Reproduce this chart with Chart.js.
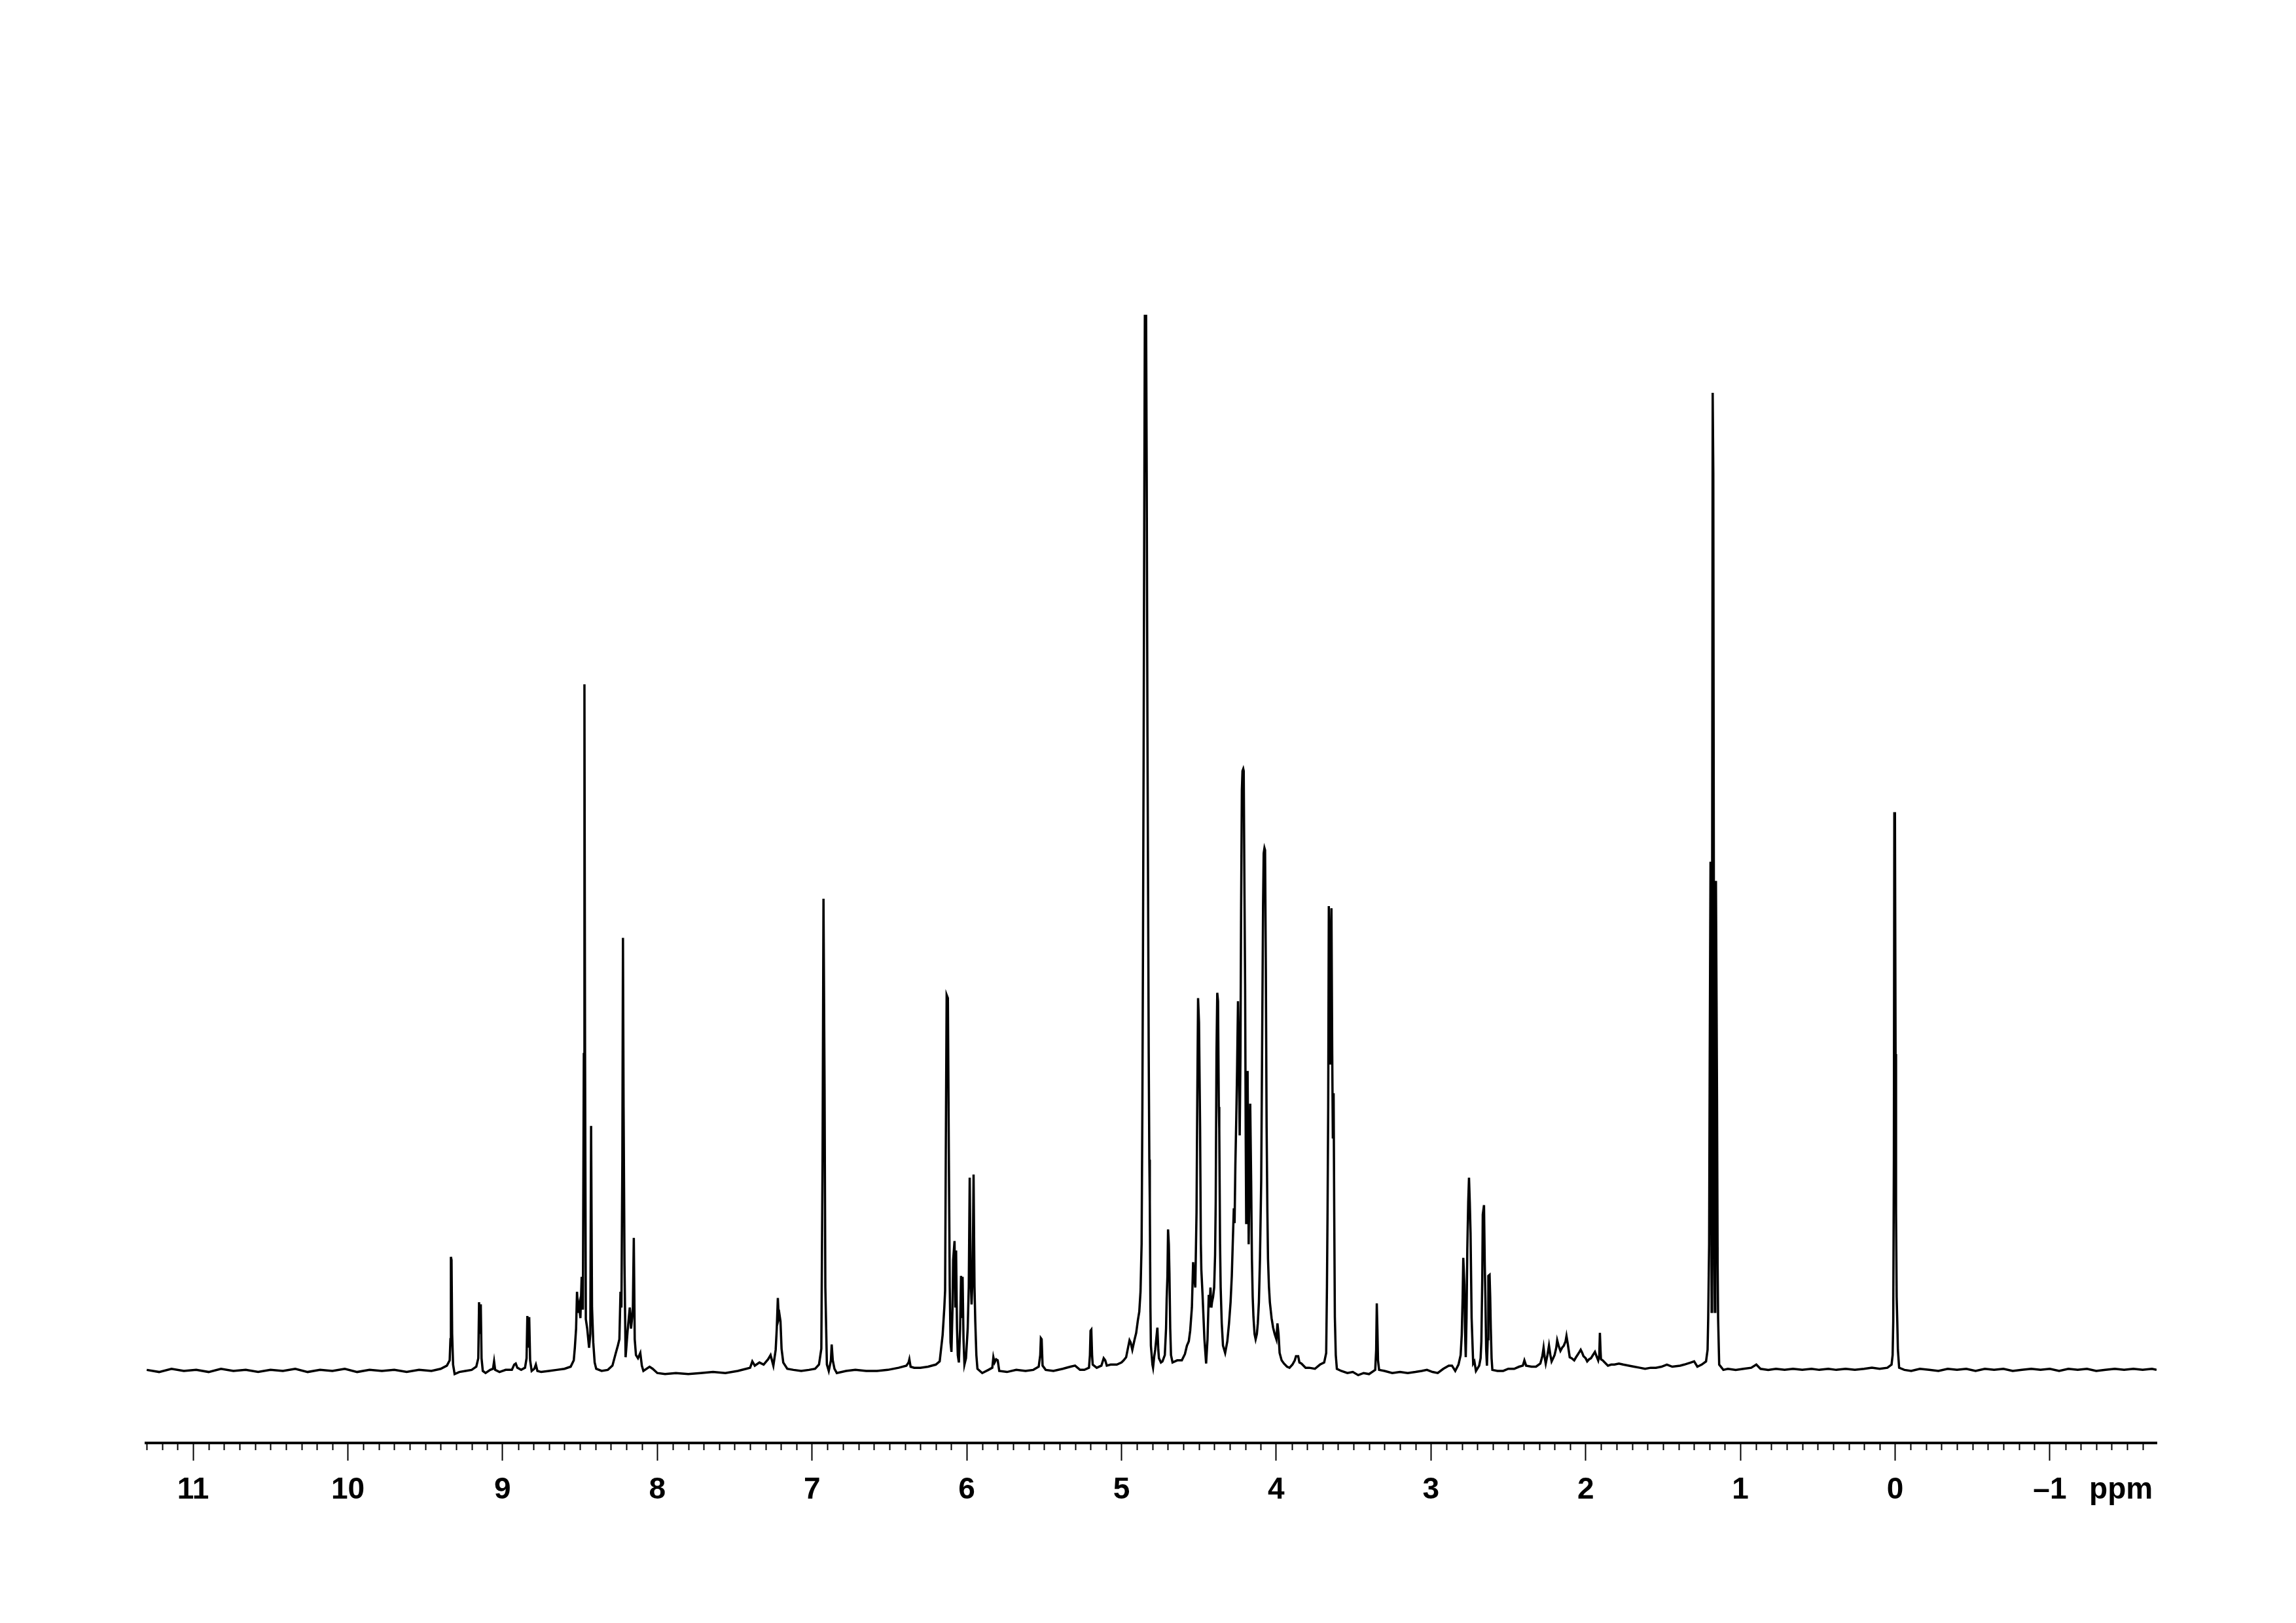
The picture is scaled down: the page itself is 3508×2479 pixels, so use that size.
<!DOCTYPE html>
<html>
<head>
<meta charset="utf-8">
<title>1H NMR spectrum</title>
<script src="https://cdn.jsdelivr.net/npm/chart.js@4.4.1/dist/chart.umd.min.js"></script>
<style>
    html, body { margin: 0; padding: 0; background: #fff; }
    canvas { display: block; }
</style>
</head>
<body>
<canvas id="spectrum" width="3508" height="2479" style="width:3508px;height:2479px"></canvas>
<script>
// chemical shift (ppm), intensity (tallest line = 100)
const aromatic = [
    [11.30, 0.1], [11.22, -0.1], [11.14, 0.2], [11.06, 0.0], [10.98, 0.1], [10.90, -0.1], [10.82, 0.2],
    [10.74, 0.0], [10.66, 0.1], [10.58, -0.1], [10.50, 0.1], [10.42, 0.0], [10.34, 0.2], [10.26, -0.1],
    [10.18, 0.1], [10.10, 0.0], [10.02, 0.2], [9.94, -0.1], [9.86, 0.1], [9.78, 0.0], [9.70, 0.1],
    [9.62, -0.1], [9.54, 0.1], [9.46, 0.0], [9.40, 0.2], [9.36, 0.5],
    [9.342, 1.0], [9.337, 3.0], [9.334, 10.8], [9.330, 10.5], [9.326, 3.5], [9.320, 0.6], [9.31, -0.3],
    [9.28, -0.1], [9.24, 0.0], [9.20, 0.1], [9.17, 0.4],
    [9.157, 1.2], [9.152, 6.5], [9.147, 3.5], [9.141, 6.3], [9.136, 1.2], [9.128, 0.0], [9.11, -0.2],
    [9.08, 0.1], [9.062, 0.2], [9.055, 0.9], [9.048, 0.1], [9.02, -0.1], [8.98, 0.1], [8.94, 0.1],
    [8.925, 0.6], [8.915, 0.7], [8.905, 0.3], [8.88, 0.1], [8.855, 0.3],
    [8.845, 1.2], [8.840, 5.2], [8.834, 2.2], [8.828, 5.1], [8.822, 1.0], [8.812, 0.0], [8.795, 0.2],
    [8.785, 0.6], [8.775, 0.0], [8.75, -0.1], [8.70, 0.0], [8.65, 0.1], [8.60, 0.2], [8.56, 0.4],
    [8.54, 1.0], [8.533, 2.2],
    [8.525, 4.0], [8.519, 7.5], [8.512, 5.5], [8.505, 6.2], [8.497, 5.0], [8.489, 8.9], [8.481, 5.8],
    [8.475, 30], [8.471, 65], [8.467, 30], [8.462, 4.9], [8.453, 4.0], [8.441, 2.2], [8.433, 3.5],
    [8.428, 23.2], [8.422, 6], [8.414, 2.7], [8.405, 0.8], [8.395, 0.2], [8.36, 0.0], [8.32, 0.1],
    [8.29, 0.5], [8.27, 1.6], [8.255, 2.4], [8.245, 3.0], [8.238, 7.5], [8.232, 6],
    [8.226, 20], [8.222, 41], [8.218, 25], [8.212, 10], [8.205, 1.3], [8.192, 3.8], [8.178, 6],
    [8.170, 4], [8.163, 5], [8.158, 6], [8.152, 12.6], [8.146, 3], [8.138, 1.5], [8.125, 1.2],
    [8.11, 1.7], [8.10, 0.5], [8.09, 0.0], [8.05, 0.4], [8.03, 0.2], [8.00, -0.2],
    [7.95, -0.3], [7.88, -0.2], [7.80, -0.3], [7.72, -0.2], [7.64, -0.1], [7.56, -0.2], [7.48, 0.0]
];

const olefinic = [
    [7.426, 0.2], [7.40, 0.3], [7.386, 0.9], [7.37, 0.5], [7.34, 0.8], [7.313, 0.6], [7.284, 1.1],
    [7.268, 1.5], [7.25, 0.5], [7.235, 2.0], [7.228, 4], [7.221, 6.9], [7.215, 5.0], [7.21, 5.3],
    [7.204, 4.7], [7.197, 2.1], [7.186, 0.8], [7.16, 0.2], [7.12, 0.1], [7.07, 0.0], [7.02, 0.1],
    [6.98, 0.2], [6.955, 0.6], [6.94, 2.1], [6.932, 20], [6.926, 44.7], [6.919, 26.6], [6.914, 7.9],
    [6.904, 0.6], [6.892, 0.0], [6.878, 1.0], [6.873, 2.5], [6.866, 1.0], [6.855, 0.2], [6.84, -0.2],
    [6.78, 0.0], [6.72, 0.1], [6.65, 0.0], [6.58, 0.0], [6.51, 0.1], [6.44, 0.3], [6.39, 0.5],
    [6.376, 0.8], [6.371, 1.1], [6.363, 0.4], [6.34, 0.3], [6.30, 0.3], [6.25, 0.4], [6.20, 0.6],
    [6.175, 0.9], [6.156, 3.4], [6.145, 6], [6.14, 7.6], [6.134, 25], [6.130, 35.6], [6.122, 35.3],
    [6.116, 21], [6.11, 8], [6.105, 2.7], [6.099, 1.8], [6.092, 6], [6.088, 10.5], [6.079, 12.3],
    [6.074, 6], [6.069, 11.4], [6.063, 4], [6.058, 1.5], [6.051, 0.8], [6.043, 4], [6.037, 9],
    [6.032, 5], [6.027, 8.9], [6.021, 3], [6.015, 0.6], [6.005, 1.2], [5.994, 4], [5.987, 8],
    [5.981, 18.3], [5.975, 9], [5.969, 6.3], [5.962, 9], [5.956, 18.6], [5.950, 8], [5.945, 4.7],
    [5.938, 1.5], [5.931, 0.2], [5.90, -0.2], [5.86, 0.1], [5.835, 0.3], [5.828, 1.3], [5.82, 0.8],
    [5.81, 1.1], [5.80, 1.0], [5.79, 0.0], [5.74, -0.1], [5.68, 0.1], [5.62, 0.0], [5.57, 0.1],
    [5.535, 0.4], [5.525, 1.5], [5.521, 3.1], [5.516, 3.0], [5.51, 0.5], [5.49, 0.1], [5.44, 0.0],
    [5.38, 0.2], [5.33, 0.4], [5.30, 0.5], [5.268, 0.1]
];

const sugar = [
    [5.24, 0.1], [5.21, 0.3], [5.204, 1.5], [5.2, 3.8], [5.195, 3.9], [5.19, 1.5], [5.186, 0.6],
    [5.16, 0.3], [5.13, 0.5], [5.115, 1.2], [5.105, 1.0], [5.095, 0.5], [5.07, 0.6], [5.03, 0.6],
    [5.00, 0.8], [4.986, 1.0], [4.97, 1.3], [4.955, 2.4], [4.948, 2.9], [4.941, 2.7], [4.93, 2.0],
    [4.915, 3.0], [4.905, 3.6], [4.894, 4.8], [4.885, 5.6], [4.877, 7.5], [4.870, 12], [4.865, 25],
    [4.861, 40], [4.857, 58], [4.853, 80], [4.849, 100], [4.845, 98], [4.841, 100], [4.837, 85],
    [4.832, 60], [4.828, 45], [4.824, 30], [4.820, 20], [4.817, 16], [4.813, 6], [4.81, 2.4],
    [4.80, 0.6], [4.796, 0.3], [4.788, 1.4], [4.782, 2], [4.772, 3.5], [4.768, 4.1], [4.762, 2],
    [4.758, 1.2], [4.745, 0.8], [4.735, 0.9], [4.72, 1.5], [4.712, 4], [4.708, 6.8], [4.703, 9],
    [4.699, 13.4], [4.694, 12], [4.69, 9.2], [4.685, 4], [4.68, 1.5], [4.67, 0.8], [4.64, 1.0],
    [4.61, 1.0], [4.59, 1.6], [4.577, 2.4], [4.565, 2.8], [4.556, 3.8], [4.545, 6], [4.537, 10.3],
    [4.531, 9], [4.523, 7.9], [4.515, 15], [4.51, 26], [4.505, 35.3], [4.499, 33], [4.492, 23],
    [4.487, 12], [4.484, 9.6], [4.476, 7.2], [4.464, 3], [4.453, 0.7], [4.444, 3], [4.436, 7.2],
    [4.43, 6], [4.425, 7.9], [4.419, 6], [4.415, 6.5], [4.408, 7], [4.401, 7.9], [4.395, 11],
    [4.391, 16], [4.386, 30], [4.381, 35.8], [4.376, 35], [4.371, 25], [4.368, 22.9], [4.363, 12],
    [4.359, 7.9], [4.352, 4.5], [4.344, 2.4], [4.33, 1.7], [4.316, 2.8], [4.305, 4.5], [4.295, 6.5],
    [4.287, 9], [4.281, 12], [4.274, 15.4], [4.269, 14], [4.264, 19.5], [4.258, 24], [4.253, 28.4],
    [4.247, 35], [4.242, 30], [4.236, 22.3], [4.231, 30], [4.227, 43.5], [4.222, 55], [4.218, 56.8],
    [4.213, 57], [4.21, 56.8], [4.205, 45], [4.201, 36.6], [4.197, 22], [4.194, 14], [4.19, 20],
    [4.185, 28.4], [4.181, 20], [4.178, 12], [4.173, 18], [4.168, 25.3], [4.162, 18], [4.157, 10.6],
    [4.152, 7], [4.147, 5.1], [4.14, 3.5], [4.133, 3], [4.125, 3.5], [4.119, 4.5], [4.112, 6.5],
    [4.105, 10.6], [4.097, 18], [4.09, 33], [4.085, 44], [4.081, 49], [4.076, 49.5], [4.072, 49.3],
    [4.067, 38], [4.062, 23], [4.057, 15], [4.053, 10.6], [4.047, 8], [4.041, 6.5], [4.03, 5],
    [4.02, 4.1], [4.01, 3.5], [3.999, 3], [3.992, 4.5], [3.985, 3.5], [3.978, 1.7], [3.965, 1.0],
    [3.95, 0.7], [3.93, 0.4], [3.914, 0.3], [3.895, 0.6], [3.88, 1.0], [3.872, 1.4], [3.858, 1.4],
    [3.85, 0.8], [3.837, 0.7], [3.81, 0.3], [3.787, 0.3], [3.75, 0.2], [3.717, 0.6], [3.69, 0.8],
    [3.677, 1.7], [3.672, 8], [3.668, 15.4], [3.664, 25], [3.660, 44], [3.656, 40], [3.651, 29],
    [3.647, 38], [3.643, 43.8], [3.638, 30], [3.634, 22], [3.629, 26.3], [3.625, 15], [3.621, 5.1],
    [3.615, 1.5], [3.608, 0.2], [3.58, 0.0], [3.54, -0.2], [3.505, -0.1], [3.47, -0.4], [3.435, -0.2],
    [3.40, -0.3], [3.36, 0.1], [3.354, 2.0], [3.350, 6.4], [3.346, 4.0], [3.342, 1.0], [3.335, 0.1],
    [3.30, 0.0]
];

const aliphatic = [
    [3.25, -0.2], [3.20, -0.1], [3.15, -0.2], [3.10, -0.1], [3.06, 0.0], [3.026, 0.1], [2.99, -0.1],
    [2.956, -0.2], [2.92, 0.2], [2.885, 0.5], [2.864, 0.5], [2.843, 0.0], [2.822, 0.6], [2.808, 1.5],
    [2.801, 3.4], [2.795, 7], [2.791, 10.7], [2.784, 8.2], [2.780, 4], [2.775, 1.3], [2.770, 5],
    [2.765, 11.5], [2.759, 16], [2.754, 18.3], [2.749, 16], [2.744, 13.1], [2.737, 5], [2.727, 0.7],
    [2.719, 0.9], [2.709, 0.0], [2.688, 0.5], [2.679, 1.2], [2.674, 2.8], [2.668, 9], [2.665, 14.8],
    [2.657, 15.7], [2.652, 10], [2.648, 6.9], [2.643, 2], [2.638, 0.5], [2.633, 3], [2.629, 9],
    [2.621, 9.1], [2.617, 7], [2.613, 4], [2.608, 1.2], [2.603, 0.1], [2.57, 0.0], [2.533, 0.0],
    [2.50, 0.2], [2.462, 0.2], [2.43, 0.4], [2.406, 0.5], [2.396, 1.0], [2.385, 0.5], [2.35, 0.4],
    [2.321, 0.4], [2.293, 0.7], [2.28, 1.4], [2.272, 2.2], [2.265, 1.3], [2.258, 0.7], [2.247, 1.5],
    [2.237, 2.4], [2.228, 1.5], [2.22, 0.9], [2.21, 1.2], [2.201, 1.5], [2.19, 2.2], [2.184, 2.9],
    [2.175, 2.4], [2.163, 1.9], [2.152, 2.2], [2.141, 2.4], [2.13, 2.8], [2.124, 3.3], [2.115, 2.5],
    [2.103, 1.3], [2.09, 1.2], [2.074, 1.0], [2.062, 1.3], [2.053, 1.5], [2.04, 1.8], [2.032, 2.0],
    [2.022, 1.7], [2.014, 1.4], [2.0, 1.2], [1.99, 0.9], [1.978, 1.1], [1.966, 1.2], [1.953, 1.5],
    [1.94, 1.8], [1.93, 1.4], [1.919, 1.0], [1.912, 1.5], [1.908, 3.6], [1.904, 2.0], [1.901, 1.1],
    [1.89, 1.0], [1.877, 0.8], [1.856, 0.5], [1.835, 0.6], [1.814, 0.6], [1.785, 0.7], [1.757, 0.6],
    [1.72, 0.5], [1.687, 0.4], [1.65, 0.3], [1.616, 0.2], [1.58, 0.3], [1.546, 0.3], [1.51, 0.4],
    [1.475, 0.6], [1.44, 0.4], [1.39, 0.5], [1.363, 0.6]
];

const upfield = [
    [1.32, 0.8], [1.299, 0.9], [1.278, 0.4], [1.25, 0.6], [1.222, 0.9], [1.212, 2], [1.208, 5],
    [1.202, 12], [1.198, 30], [1.193, 48.2], [1.189, 30], [1.186, 5.6], [1.183, 40], [1.179, 92.6],
    [1.175, 85], [1.171, 40], [1.168, 10], [1.165, 5.6], [1.162, 30], [1.158, 46.4], [1.154, 35],
    [1.151, 26], [1.147, 10], [1.144, 5], [1.137, 0.6], [1.11, 0.1], [1.081, 0.2], [1.03, 0.1],
    [0.98, 0.2], [0.93, 0.3], [0.897, 0.6], [0.87, 0.2], [0.82, 0.1], [0.77, 0.2], [0.714, 0.1],
    [0.66, 0.2], [0.60, 0.1], [0.54, 0.2], [0.49, 0.1], [0.432, 0.2], [0.38, 0.1], [0.32, 0.2],
    [0.26, 0.1], [0.20, 0.2], [0.15, 0.3], [0.10, 0.2], [0.05, 0.3], [0.023, 0.6], [0.016, 1.5],
    [0.012, 4.7], [0.008, 20], [0.005, 52.8], [0.001, 52.8], [-0.003, 30], [-0.006, 15], [-0.010, 7],
    [-0.014, 4.7], [-0.018, 2], [-0.026, 0.3], [-0.06, 0.1], [-0.104, 0.0], [-0.16, 0.2], [-0.22, 0.1],
    [-0.28, 0.0], [-0.34, 0.2], [-0.40, 0.1], [-0.46, 0.2], [-0.52, 0.0], [-0.58, 0.2], [-0.64, 0.1],
    [-0.70, 0.2], [-0.76, 0.0], [-0.82, 0.1], [-0.88, 0.2], [-0.94, 0.1], [-1.00, 0.2], [-1.06, 0.0],
    [-1.12, 0.2], [-1.18, 0.1], [-1.24, 0.2], [-1.30, 0.0], [-1.36, 0.1], [-1.42, 0.2], [-1.48, 0.1],
    [-1.54, 0.2], [-1.60, 0.1], [-1.66, 0.2], [-1.69, 0.1]
];

const tickValues = [11, 10, 9, 8, 7, 6, 5, 4, 3, 2, 1, 0, -1];
const unitLabel = "ppm";
const unitPosition = -1.46;

const spectrum = aromatic.concat(olefinic, sugar, aliphatic, upfield)
    .map(function (p) { return { x: p[0], y: p[1] }; });

// small ticks every 0.1 ppm under the axis line
const minorTicks = {
    id: "minorTicks",
    afterDraw: function (chart) {
        var scale = chart.scales.x;
        var ctx = chart.ctx;
        var y0 = chart.chartArea.bottom;
        ctx.save();
        ctx.strokeStyle = "#000";
        ctx.lineWidth = 2;
        ctx.beginPath();
        for (var i = -16; i <= 113; i++) {
            if (i % 10 === 0) continue;
            var px = Math.round(scale.getPixelForValue(i / 10)) + 0.5;
            ctx.moveTo(px, y0);
            ctx.lineTo(px, y0 + 11);
        }
        ctx.stroke();
        ctx.restore();
    }
};

var ctx = document.getElementById("spectrum").getContext("2d");
new Chart(ctx, {
    type: "line",
    data: {
        datasets: [
            {
                label: "1H",
                data: spectrum,
                borderColor: "#000",
                borderWidth: 3.5,
                pointRadius: 0,
                tension: 0,
                fill: false
            }
        ]
    },
    options: {
        responsive: false,
        devicePixelRatio: 1,
        animation: false,
        layout: {
            padding: { top: 300, left: 223, right: 213, bottom: 0 }
        },
        plugins: {
            legend: { display: false },
            tooltip: { enabled: false }
        },
        scales: {
            y: {
                display: false,
                min: -6.82,
                max: 111.2
            },
            x: {
                type: "linear",
                reverse: true,
                min: -1.69,
                max: 11.305,
                afterFit: function (scale) {
                    scale.height = 275;
                },
                afterBuildTicks: function (scale) {
                    scale.ticks = tickValues.map(function (v) { return { value: v }; })
                        .concat([{ value: unitPosition }]);
                },
                border: { display: true, color: "#000", width: 4 },
                grid: {
                    drawOnChartArea: false,
                    drawTicks: true,
                    tickLength: 27,
                    tickWidth: 2,
                    tickColor: function (c) {
                        return c.tick && c.tick.value === unitPosition ? "rgba(0,0,0,0)" : "#000";
                    }
                },
                ticks: {
                    autoSkip: false,
                    maxRotation: 0,
                    padding: 18,
                    color: "#000",
                    font: { family: "'Liberation Sans', Arial, sans-serif", size: 46, weight: "bold" },
                    callback: function (value) {
                        if (value === unitPosition) return unitLabel;
                        if (value < 0) return "\u2013" + Math.abs(value);
                        return String(value);
                    }
                }
            }
        }
    },
    plugins: [minorTicks]
});
</script>
</body>
</html>
